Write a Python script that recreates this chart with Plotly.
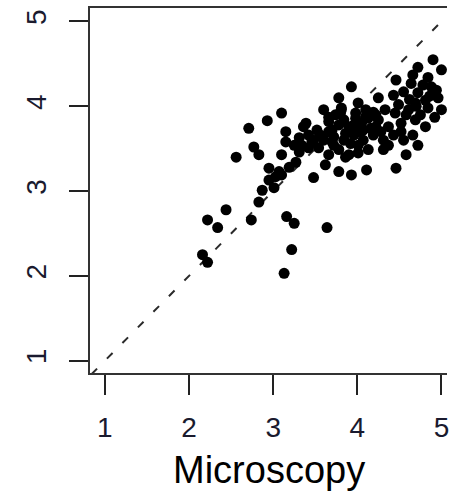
import plotly.graph_objects as go

# Microscopy (x) vs other method (y) values
micro = [2.16, 2.22, 2.44, 2.22, 2.34, 2.74, 2.83, 2.87, 3.16, 3.25, 3.22, 3.13, 3.64,
         2.56, 2.71, 2.93, 3.10, 2.77, 2.83, 3.15, 3.15, 3.10, 2.95, 3.07, 3.19, 3.27,
         3.36, 3.52, 3.34, 3.42, 3.46, 3.31, 3.48, 3.62, 3.78, 3.93, 4.11, 4.31, 4.46,
         4.58, 4.01, 3.86, 3.93, 3.78, 4.25, 4.46, 4.88, 4.72, 4.90, 5.00, 4.84, 4.64,
         4.72, 4.81, 4.69, 4.61, 5.00, 3.39, 3.66, 3.81, 3.98, 4.10, 4.33, 4.45, 3.70,
         3.90, 4.05, 4.22, 4.37, 4.52, 4.69, 4.81, 4.92, 3.66, 3.74, 3.81,
         3.60, 3.72, 3.84, 3.96, 4.07, 4.19, 4.31, 4.43, 4.55, 3.78, 3.90, 3.66, 3.54,
         4.01, 4.13, 4.37, 4.66, 4.72, 3.84, 3.96, 4.13, 4.25, 4.49, 4.43, 4.55, 4.66,
         4.78, 4.94, 4.84, 4.75, 4.96, 3.66, 3.78, 4.07, 3.42, 3.31, 3.25, 3.60, 4.01,
         4.19, 2.95, 3.01, 3.10, 3.03,
         3.72, 3.86, 3.92, 4.04, 4.16, 4.28, 3.80, 3.98, 4.10, 4.22, 3.70, 4.58, 4.62,
         4.70, 4.86, 4.52, 3.56, 3.48]
other = [2.25, 2.16, 2.78, 2.66, 2.57, 2.66, 2.87, 3.01, 2.70, 2.62, 2.31, 2.03, 2.57,
         3.40, 3.74, 3.83, 3.92, 3.52, 3.43, 3.70, 3.58, 3.43, 3.27, 3.23, 3.28, 3.34,
         3.76, 3.72, 3.54, 3.51, 3.58, 3.46, 3.16, 3.31, 3.23, 3.19, 3.25, 3.49, 3.27,
         3.43, 3.45, 3.40, 4.23, 4.10, 4.10, 4.31, 4.23, 4.46, 4.55, 4.43, 4.34, 4.27,
         4.16, 4.07, 4.04, 3.96, 3.96, 3.80, 3.87, 3.96, 3.92, 3.96, 3.96, 3.92, 3.72,
         3.76, 3.80, 3.76, 3.76, 3.80, 3.84, 3.76, 3.87, 3.82, 3.90, 3.98,
         3.60, 3.54, 3.60, 3.66, 3.60, 3.66, 3.60, 3.66, 3.60, 3.49, 3.43, 3.43, 3.51,
         3.54, 3.49, 3.54, 3.66, 3.54, 3.84, 3.78, 3.86, 3.84, 4.02, 4.13, 4.17, 4.37,
         4.25, 4.19, 3.98, 3.90, 4.10, 3.70, 3.78, 3.72, 3.66, 3.63, 3.54, 3.96, 4.04,
         3.93, 3.13, 3.04, 3.19, 3.17,
         3.64, 3.68, 3.56, 3.70, 3.74, 3.70, 3.92, 3.86, 3.88, 3.90, 3.58, 3.90, 4.08,
         4.00, 4.12, 3.70, 3.66, 3.60]

identity = [0.84, 5.16]
tick_vals = [1, 2, 3, 4, 5]
tick_text = ["1", "2", "3", "4", "5"]
x_title = "Microscopy"

fig = go.Figure()
fig.add_trace(go.Scatter(x=identity, y=identity, mode="lines",
                         line=dict(color="#2a2a2a", width=2, dash="8px,14px"),
                         hoverinfo="skip", showlegend=False))
fig.add_trace(go.Scatter(x=micro, y=other, mode="markers",
                         marker=dict(color="black", size=11, line=dict(width=0)),
                         showlegend=False, cliponaxis=True))

axis_common = dict(showgrid=False, zeroline=False, showline=True, linecolor="#333333",
                   linewidth=2, ticks="outside", tickcolor="#222222", tickwidth=2,
                   tickvals=tick_vals, ticktext=tick_text, ticklabeloverflow="allow",
                   tickfont=dict(family="Liberation Sans, Arial", size=28, color="#1a1a2e"))

fig.update_layout(
    width=449, height=492,
    margin=dict(l=90, r=0, t=8, b=119),
    paper_bgcolor="white", plot_bgcolor="white",
    xaxis=dict(range=[0.823, 5.066], ticklen=20, mirror=True, ticklabelstandoff=8,
               **axis_common),
    yaxis=dict(range=[0.855, 5.159], ticklen=19, mirror=False, tickangle=-90,
               ticklabelstandoff=12, **axis_common),
    annotations=[dict(text=x_title, xref="paper", yref="paper", x=0.5, y=0,
                      xanchor="center", yanchor="top", yshift=-74, showarrow=False,
                      font=dict(family="Liberation Sans, Arial", size=38, color="black"))],
)

fig.write_html("out.html", config={"displayModeBar": False},
               post_script="document.body.style.margin='0';document.body.style.overflow='hidden';")
